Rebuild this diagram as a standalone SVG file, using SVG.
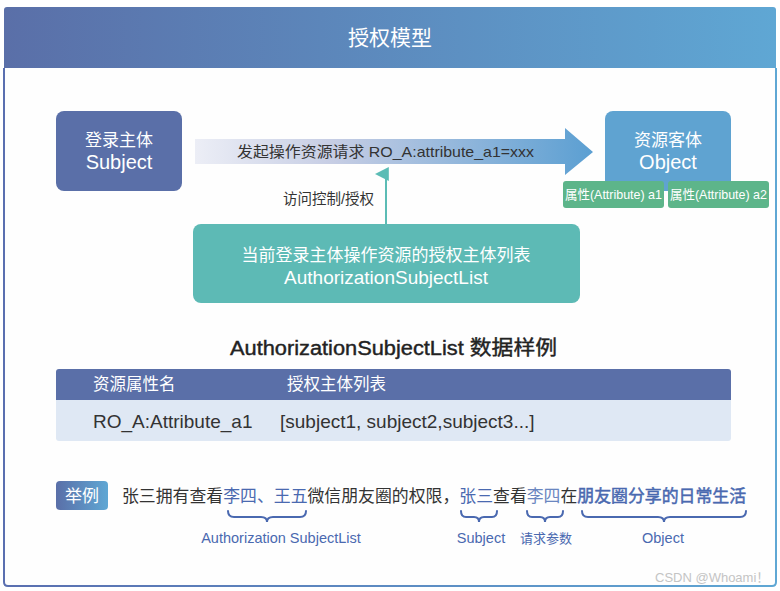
<svg xmlns="http://www.w3.org/2000/svg" width="780" height="591" viewBox="0 0 780 591">
<defs>
<linearGradient id="hdr" x1="0" y1="0" x2="1" y2="0"><stop offset="0" stop-color="#5a6fa8"/><stop offset="1" stop-color="#5fa7d4"/></linearGradient>
<linearGradient id="frm" x1="0" y1="0" x2="1" y2="0"><stop offset="0" stop-color="#5a6fb0"/><stop offset="1" stop-color="#5fa7d4"/></linearGradient>
<linearGradient id="arr" x1="195" y1="0" x2="593" y2="0" gradientUnits="userSpaceOnUse"><stop offset="0" stop-color="#eceef6"/><stop offset="0.35" stop-color="#c6cde4"/><stop offset="1" stop-color="#5b9fd2"/></linearGradient>
<marker id="tri" viewBox="0 0 10 10" refX="5" refY="8" markerWidth="14" markerHeight="14" markerUnits="userSpaceOnUse" orient="auto-start-reverse"><path d="M0,10 L5,0 L10,10 Z" fill="#5bbcb5"/></marker>
<style>
text{font-family:"Liberation Sans","Noto Sans CJK SC",sans-serif}
.w{fill:#fff}
.d{fill:#333}
.b{fill:#4a69b0}
.brace{fill:none;stroke:#4a69b0;stroke-width:2;stroke-linecap:round}
</style>
</defs>
<rect x="0" y="0" width="780" height="591" fill="#fff"/>
<g id="frame">
<path d="M4,68 L4,582 Q4,586 8,586 L772,586 Q776,586 776,582 L776,68" fill="#fefefe" stroke="url(#frm)" stroke-width="2"/>
<path d="M4,68 L4,10 Q4,7 7,7 L773,7 Q776,7 776,10 L776,68 Z" fill="url(#hdr)"/>
<text x="390" y="45" text-anchor="middle" font-size="21" class="w">授权模型</text>
</g>
<g id="subject">
<rect x="56" y="111" width="126" height="80" rx="8" fill="#5a6fa8"/>
<text x="119" y="146" text-anchor="middle" font-size="17" class="w">登录主体</text>
<text x="119" y="169" text-anchor="middle" font-size="20" class="w">Subject</text>
</g>
<g id="object">
<rect x="605" y="111" width="126" height="80" rx="8" fill="#5fa3d1"/>
<text x="668" y="146" text-anchor="middle" font-size="17" class="w">资源客体</text>
<text x="668" y="169" text-anchor="middle" font-size="20" class="w">Object</text>
</g>
<g id="attr1">
<rect x="563" y="181" width="101" height="27" rx="3" fill="#5db58a"/>
<text x="613.5" y="199" text-anchor="middle" font-size="13" class="w" textLength="97" lengthAdjust="spacingAndGlyphs">属性(Attribute) a1</text>
</g>
<g id="attr2">
<rect x="668" y="181" width="101" height="27" rx="3" fill="#5db58a"/>
<text x="718.5" y="199" text-anchor="middle" font-size="13" class="w" textLength="97" lengthAdjust="spacingAndGlyphs">属性(Attribute) a2</text>
</g>
<g id="authlist">
<rect x="193" y="224" width="387" height="79" rx="8" fill="#5dbab5"/>
<text x="386" y="261" text-anchor="middle" font-size="17" class="w">当前登录主体操作资源的授权主体列表</text>
<text x="386" y="284" text-anchor="middle" font-size="19" class="w">AuthorizationSubjectList</text>
</g>
<g id="connectors">
<path d="M195,139 L565,139 L565,128 L593,152 L565,175 L565,164 L195,164 Z" fill="url(#arr)"/>
<text x="237" y="157" font-size="15" class="d" textLength="297" lengthAdjust="spacingAndGlyphs">发起操作资源请求 RO_A:attribute_a1=xxx</text>
<line x1="386" y1="224" x2="386" y2="174" stroke="#5bbcb5" stroke-width="2" marker-end="url(#tri)"/>
<text x="283" y="204" font-size="14.5" class="d">访问控制/授权</text>
</g>
<g id="table">
<text x="230" y="355" font-size="20" fill="#222" stroke="#222" stroke-width="0.4" textLength="327" lengthAdjust="spacingAndGlyphs">AuthorizationSubjectList 数据样例</text>
<path d="M56,400 L56,372 Q56,369 59,369 L728,369 Q731,369 731,372 L731,400 Z" fill="#5a6fa8"/>
<path d="M56,400 L731,400 L731,438 Q731,441 728,441 L59,441 Q56,441 56,438 Z" fill="#dfe8f4"/>
<text x="93" y="390" font-size="16.5" class="w">资源属性名</text>
<text x="287" y="390" font-size="16.5" class="w">授权主体列表</text>
<text x="93" y="428" font-size="19" class="d">RO_A:Attribute_a1</text>
<text x="280" y="428" font-size="19" class="d">[subject1, subject2,subject3...]</text>
</g>
<g id="example">
<rect x="56" y="481" width="52" height="29" rx="4" fill="url(#hdr)"/>
<text x="82" y="502" text-anchor="middle" font-size="17" class="w">举例</text>
<text x="122" y="502" font-size="17" class="d" textLength="624" lengthAdjust="spacingAndGlyphs">张三拥有查看<tspan class="b">李四、王五</tspan>微信朋友圈的权限，<tspan class="b">张三</tspan>查看<tspan fill="#6a86c0">李四</tspan>在<tspan class="b" stroke="#4a69b0" stroke-width="0.5">朋友圈分享的日常生活</tspan></text>
<path class="brace" d="M228,511 Q228,517 234,517 L261,517 Q267,517 267,522 Q267,517 273,517 L300,517 Q306,517 306,511"/>
<path class="brace" d="M461,511 Q461,517 466,517 L474,517 Q479,517 479,522 Q479,517 484,517 L492,517 Q497,517 497,511"/>
<path class="brace" d="M527,511 Q527,517 532,517 L540,517 Q545,517 545,522 Q545,517 550,517 L558,517 Q563,517 563,511"/>
<path class="brace" d="M582,511 Q582,517 588,517 L658,517 Q664,517 664,522 Q664,517 670,517 L740,517 Q746,517 746,511"/>
<text x="281" y="543" text-anchor="middle" font-size="14.5" class="b">Authorization SubjectList</text>
<text x="481" y="543" text-anchor="middle" font-size="14.5" class="b">Subject</text>
<text x="546" y="543" text-anchor="middle" font-size="13" class="b">请求参数</text>
<text x="663" y="543" text-anchor="middle" font-size="14.5" class="b">Object</text>
</g>
<text x="655" y="582" font-size="13" fill="#c4c4c4">CSDN @Whoami！</text>
</svg>
